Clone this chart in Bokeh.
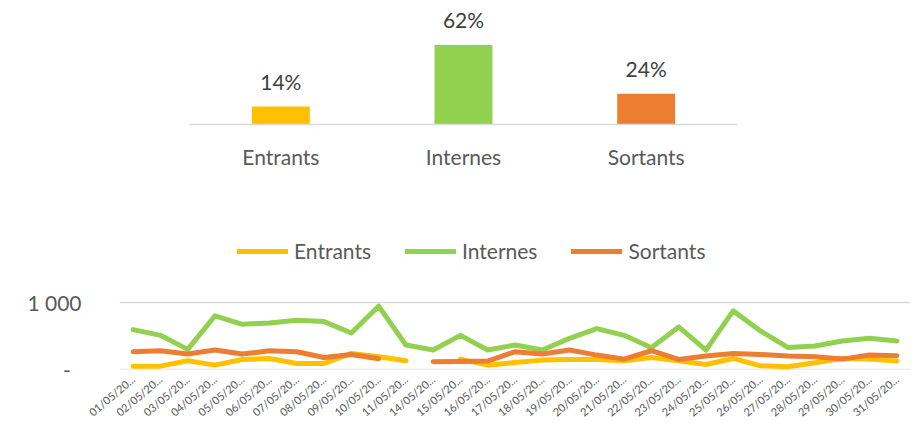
import math
import numpy as np
from bokeh.plotting import figure
from bokeh.models import (ColumnDataSource, FactorRange, Range1d, FixedTicker,
                          Legend, LegendItem)
from bokeh.layouts import column
from bokeh.embed import file_html
from bokeh.resources import INLINE
from bokeh.core.properties import value

# ---------------- data ----------------
categories = ["Entrants", "Internes", "Sortants"]
shares = [14, 62, 24]
share_labels = ["14%", "62%", "24%"]
colors = ["#FFC000", "#92D050", "#ED7D31"]

dates = ["01/05/2020", "02/05/2020", "03/05/2020", "04/05/2020", "05/05/2020",
         "06/05/2020", "07/05/2020", "08/05/2020", "09/05/2020", "10/05/2020",
         "11/05/2020", "14/05/2020", "15/05/2020", "16/05/2020", "17/05/2020",
         "18/05/2020", "19/05/2020", "20/05/2020", "21/05/2020", "22/05/2020",
         "23/05/2020", "24/05/2020", "25/05/2020", "26/05/2020", "27/05/2020",
         "28/05/2020", "29/05/2020", "30/05/2020", "31/05/2020"]
nan = float("nan")
entrants = [45, 45, 125, 60, 145, 160, 85, 85, 235, 185, 125,
            nan, 150, 60, 100, 135, 145, 145, 125, 175, 125, 70, 160, 50, 35, 95, 160, 150, 120]
internes = [590, 505, 295, 795, 670, 690, 730, 710, 540, 940, 360,
            285, 505, 285, 360, 285, 460, 605, 505, 320, 630, 285, 870, 570, 325, 345, 420, 460, 420]
sortants = [260, 275, 225, 285, 225, 275, 260, 175, 220, 155, nan,
            110, 115, 120, 260, 225, 285, 210, 150, 275, 145, 195, 235, 220, 195, 185, 150, 210, 200]
y_ticks = [0, 1000]
y_tick_labels = {0: "-\u00a0\u00a0", 1000: "1 000"}
# dates as shown (truncated) on the axis
date_labels = [d[:8] + "..." for d in dates]

FONT = "Lato"
GRAY = "#595959"
GRID = "#D9D9D9"

# ---------------- top bar chart ----------------
cat_pos = [i + 1 for i in range(len(categories))]
src1 = ColumnDataSource(dict(pos=cat_pos, share=shares, label=share_labels, color=colors))
p1 = figure(width=917, height=190, x_range=Range1d(0.1168, 4.447),
            y_range=Range1d(0, 88.8), output_backend="svg", toolbar_location=None,
            min_border_left=119, min_border_right=7, min_border_top=10, min_border_bottom=66)
p1.vbar(x="pos", top="share", width=0.317, fill_color="color", line_color=None, source=src1)
p1.text(x="pos", y="share", text="label", y_offset=-25, text_align="center",
        text_baseline="middle", text_font=value(FONT), text_font_size="21px",
        text_color="#404040", source=src1)
p1.yaxis.visible = False
p1.xgrid.visible = False
p1.ygrid.visible = False
p1.outline_line_color = None
p1.xaxis.ticker = FixedTicker(ticks=cat_pos)
p1.xaxis.major_label_overrides = {p: c for p, c in zip(cat_pos, categories)}
p1.xaxis.bounds = (0.5, 3.5)
p1.xaxis.axis_line_color = GRID
p1.xaxis.axis_line_width = 1.5
p1.xaxis.major_tick_line_color = None
p1.xaxis.minor_tick_line_color = None
p1.xaxis.major_label_text_font = FONT
p1.xaxis.major_label_text_font_size = "21px"
p1.xaxis.major_label_text_color = GRAY
p1.xaxis.major_label_standoff = 13

# ---------------- line chart ----------------
src2 = ColumnDataSource(dict(date=date_labels,
                             entrants=np.array(entrants, dtype=float),
                             internes=np.array(internes, dtype=float),
                             sortants=np.array(sortants, dtype=float)))
p2 = figure(width=917, height=236, x_range=FactorRange(factors=date_labels),
            y_range=Range1d(-5, 2144), output_backend="svg", toolbar_location=None,
            min_border_left=119, min_border_right=7, min_border_top=35, min_border_bottom=55)
renderers = []
for name, col, c in [("Entrants", "entrants", colors[0]),
                     ("Internes", "internes", colors[1]),
                     ("Sortants", "sortants", colors[2])]:
    r = p2.line(x="date", y=col, source=src2, line_color=c, line_width=5,
                line_cap="round", line_join="round")
    renderers.append((name, r))

legend = Legend(items=[LegendItem(label=n, renderers=[r]) for n, r in renderers],
                orientation="horizontal", location=(118, 106), padding=0, margin=0,
                spacing=34, glyph_width=51, glyph_height=20, label_height=20,
                label_standoff=6, label_text_font=FONT, label_text_font_size="21px",
                label_text_color=GRAY, border_line_color=None, background_fill_alpha=0)
p2.add_layout(legend)

p2.xgrid.visible = False
p2.ygrid.ticker = FixedTicker(ticks=y_ticks)
p2.ygrid.grid_line_color = GRID
p2.ygrid.grid_line_width = 1.5
p2.yaxis.ticker = FixedTicker(ticks=y_ticks)
p2.yaxis.major_label_overrides = y_tick_labels
p2.yaxis.axis_line_color = None
p2.yaxis.major_tick_line_color = None
p2.yaxis.minor_tick_line_color = None
p2.yaxis.major_label_text_font = FONT
p2.yaxis.major_label_text_font_size = "21px"
p2.yaxis.major_label_text_color = GRAY
p2.yaxis.major_label_standoff = 32
p2.xaxis.axis_line_color = None
p2.xaxis.major_tick_line_color = None
p2.xaxis.minor_tick_line_color = None
p2.xaxis.major_label_orientation = 0.70
p2.xaxis.major_label_standoff = 2
p2.xaxis.major_label_text_font = FONT
p2.xaxis.major_label_text_font_size = "11px"
p2.xaxis.major_label_text_color = GRAY
p2.outline_line_color = None

layout = column(p1, p2)
open("out.html", "w").write(file_html(layout, INLINE))
